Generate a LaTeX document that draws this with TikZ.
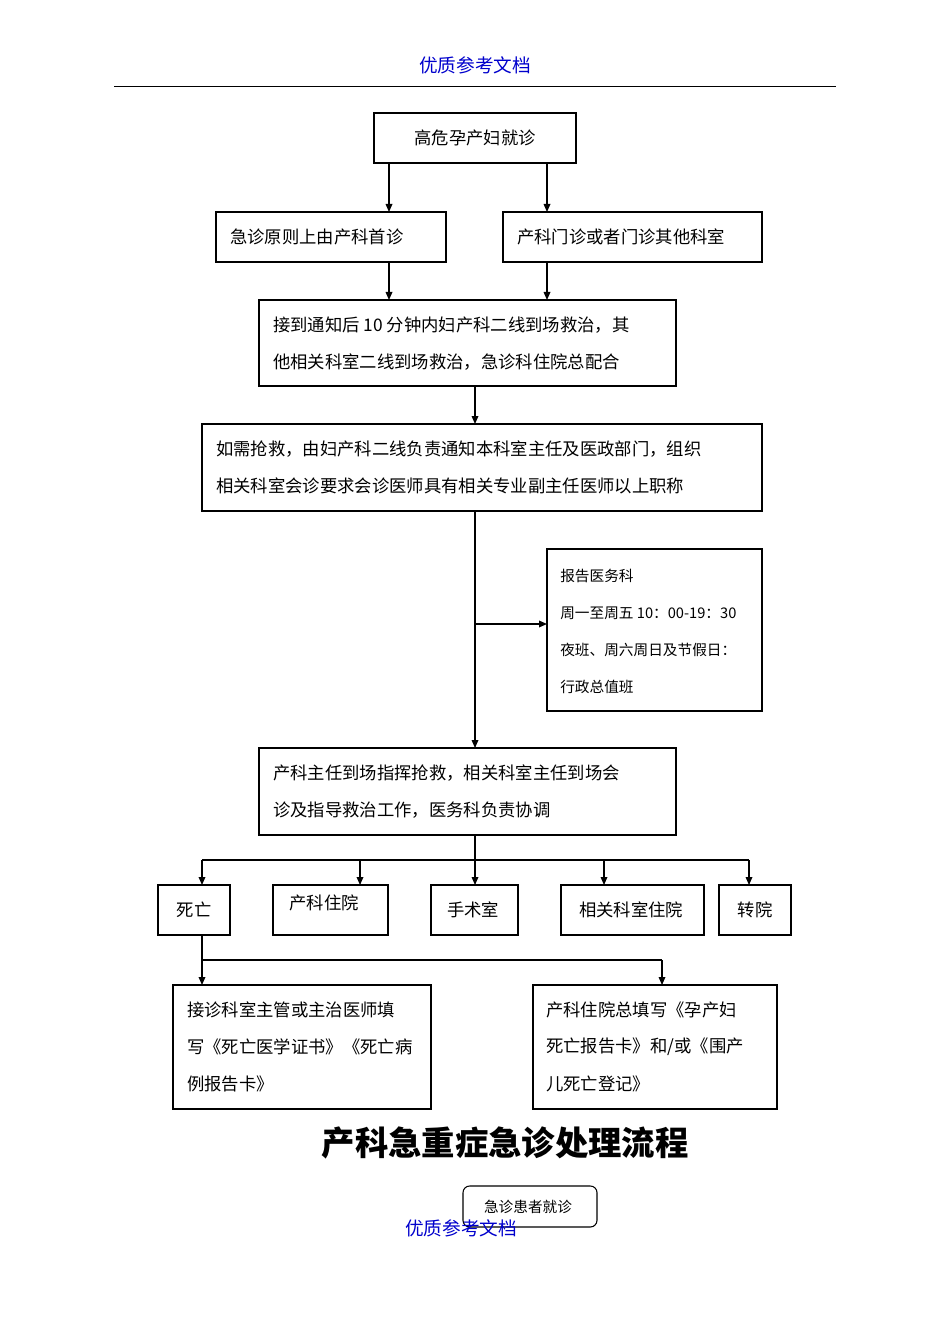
\documentclass[tikz,border=0pt]{standalone}
\usepackage{fontspec}
\setmainfont{Noto Sans CJK SC}
\usetikzlibrary{arrows.meta}
\begin{document}
\begin{tikzpicture}[x=0.75pt,y=-0.75pt,
  bx/.style={draw,line width=0.8pt},
  tx/.style={anchor=west,font=\fontsize{13}{15}\selectfont,inner sep=0pt},
  sx/.style={anchor=west,font=\fontsize{11}{13}\selectfont,inner sep=0pt},
  ar/.style={-{Triangle[length=6pt,width=5pt]},line width=0.9pt},
  ln/.style={line width=0.9pt}]
\useasboundingbox (0,0) rectangle (950,1344);
\node[text=blue!80!black,font=\fontsize{14}{16}\selectfont] (h) at (475,65) {优质参考文档};
\draw[line width=0.6pt] (114,86) -- (836,86);
% boxes
\draw[line width=1.3pt] (374,113) rectangle (576,163);
\node[font=\fontsize{13}{15}\selectfont] (b1) at (475,138) {高危孕产妇就诊};
\draw[bx] (216,212) rectangle (446,262);
\node[tx] (b2) at (230,237) {急诊原则上由产科首诊};
\draw[bx] (503,212) rectangle (762,262);
\node[tx] (b3) at (517,237) {产科门诊或者门诊其他科室};
\draw[bx] (259,300) rectangle (676,386);
\node[tx] (b4a) at (273,325) {接到通知后 10 分钟内妇产科二线到场救治，其};
\node[tx] (b4b) at (273,362) {他相关科室二线到场救治，急诊科住院总配合};
\draw[bx] (202,424) rectangle (762,511);
\node[tx] (b5a) at (216,449) {如需抢救，由妇产科二线负责通知本科室主任及医政部门，组织};
\node[tx] (b5b) at (216,486) {相关科室会诊要求会诊医师具有相关专业副主任医师以上职称};
\draw[bx] (547,549) rectangle (762,711);
\node[sx] (b6a) at (560,576) {报告医务科};
\node[sx] (b6b) at (560,613) {周一至周五 10：00-19：30};
\node[sx] (b6c) at (560,650) {夜班、周六周日及节假日：};
\node[sx] (b6d) at (560,687) {行政总值班};
\draw[bx] (259,748) rectangle (676,835);
\node[tx] (b7a) at (273,773) {产科主任到场指挥抢救，相关科室主任到场会};
\node[tx] (b7b) at (273,810) {诊及指导救治工作，医务科负责协调};
\draw[bx] (158,885) rectangle (230,935); \node[font=\fontsize{13}{15}\selectfont] (r1) at (194,910) {死亡};
\draw[bx] (273,885) rectangle (388,935); \node[font=\fontsize{13}{15}\selectfont] (r2) at (324,903) {产科住院};
\draw[bx] (431,885) rectangle (518,935); \node[font=\fontsize{13}{15}\selectfont] (r3) at (473,910) {手术室};
\draw[bx] (561,885) rectangle (704,935); \node[font=\fontsize{13}{15}\selectfont] (r4) at (631,910) {相关科室住院};
\draw[bx] (719,885) rectangle (791,935); \node[font=\fontsize{13}{15}\selectfont] (r5) at (755,910) {转院};
\draw[bx] (173,985) rectangle (431,1109);
\node[tx] (b8a) at (187,1010) {接诊科室主管或主治医师填};
\node[tx] (b8b) at (187,1047) {写《死亡医学证书》《死亡病};
\node[tx] (b8c) at (187,1084) {例报告卡》};
\draw[bx] (533,985) rectangle (777,1109);
\node[tx] (b9a) at (546,1010) {产科住院总填写《孕产妇};
\node[tx] (b9b) at (546,1047) {死亡报告卡》和/或《围产};
\node[tx] (b9c) at (546,1084) {儿死亡登记》};
\node[font=\fontsize{25}{28}\selectfont\bfseries] (t) at (505,1143) {产科急重症急诊处理流程};
\draw[bx,rounded corners=5pt] (463,1186) rectangle (597,1227);
\node[font=\fontsize{11}{13}\selectfont] (e) at (528,1207) {急诊患者就诊};
\node[text=blue!80!black,font=\fontsize{14}{16}\selectfont] (f) at (461,1228) {优质参考文档};
% connectors
\coordinate (p1) at (389,163); \coordinate (q1) at (389,212);
\coordinate (p2) at (547,163); \coordinate (q2) at (547,212);
\draw[ar] (p1) -- (q1); \draw[ar] (p2) -- (q2);
\coordinate (p3) at (389,262); \coordinate (q3) at (389,300);
\coordinate (p4) at (547,262); \coordinate (q4) at (547,300);
\draw[ar] (p3) -- (q3); \draw[ar] (p4) -- (q4);
\coordinate (p5) at (475,386); \coordinate (q5) at (475,424);
\draw[ar] (p5) -- (q5);
\coordinate (p6) at (475,511); \coordinate (q6) at (475,748);
\draw[ar] (p6) -- (q6);
\coordinate (m6) at (475,624); \coordinate (n6) at (547,624);
\draw[ar] (m6) -- (n6);
\coordinate (p7) at (475,835); \coordinate (q7) at (475,885);
\draw[ar] (p7) -- (q7);
\coordinate (hl) at (202,860); \coordinate (hr) at (749,860);
\draw[ln] (hl) -- (hr);
\foreach \x in {202,360,604,749} \draw[ar] (\x,860) -- (\x,885);
\coordinate (p8) at (202,935); \coordinate (q8) at (202,985);
\draw[ar] (p8) -- (q8);
\coordinate (m8) at (202,960); \coordinate (n8) at (662,960); \coordinate (q9) at (662,985);
\draw[ln] (m8) -- (n8); \draw[ar] (n8) -- (q9);
\end{tikzpicture}
\end{document}
